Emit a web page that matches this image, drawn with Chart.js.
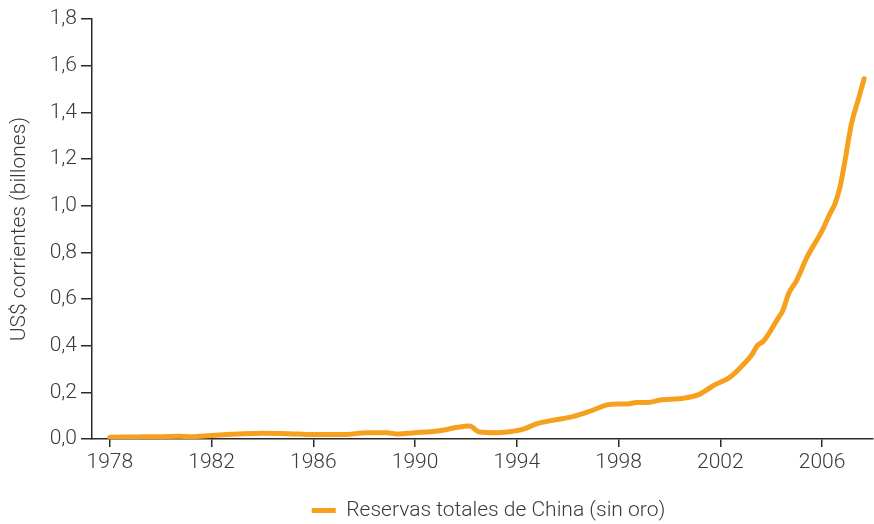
<!DOCTYPE html>
<html lang="es">
<head>
  <meta charset="UTF-8" />
  <title>Reservas totales de China</title>
  <script src="https://cdn.jsdelivr.net/npm/chart.js"></script>
  <style>
    html, body { margin: 0; padding: 0; background: #fff; }
    #wrap { width: 874px; height: 524px; }
  </style>
</head>
<body>
  <div id="wrap"><canvas id="reservesChart" width="874" height="524"></canvas></div>
  <script>
    // data
    const years = [
      1978.0, 1979.0, 1980.0, 1980.7, 1981.2, 1982.0, 1983.0, 1984.0, 1985.0, 1986.0,
      1987.2, 1988.1, 1988.9, 1989.3, 1990.0, 1990.6, 1991.2, 1991.65, 1992.15, 1992.5,
      1993.2, 1993.7, 1994.25, 1994.8, 1995.4, 1996.2, 1996.9, 1997.55, 1997.95, 1998.35,
      1998.7, 1999.1, 1999.6, 2000.0, 2000.55, 2001.15, 2001.7, 2002.4, 2002.85, 2003.25,
      2003.45, 2003.7, 2004.25, 2004.45, 2004.7, 2005.0, 2005.4, 2006.0, 2006.3, 2006.5,
      2006.7, 2006.9, 2007.15, 2007.45, 2007.65
    ];
    const reserves = [
      0.008, 0.009, 0.010, 0.012, 0.010, 0.015, 0.021, 0.025, 0.023, 0.019,
      0.019, 0.027, 0.027, 0.021, 0.027, 0.031, 0.040, 0.050, 0.056, 0.031,
      0.027, 0.031, 0.042, 0.066, 0.080, 0.096, 0.120, 0.146, 0.150, 0.150,
      0.156, 0.156, 0.166, 0.170, 0.175, 0.190, 0.227, 0.267, 0.313, 0.363,
      0.400, 0.420, 0.514, 0.550, 0.627, 0.680, 0.778, 0.893, 0.964, 1.007,
      1.079, 1.193, 1.350, 1.465, 1.544
    ];
    const xTicks = [1978, 1982, 1986, 1990, 1994, 1998, 2002, 2006];
    const yTicks = [0, 0.2, 0.4, 0.6, 0.8, 1.0, 1.2, 1.4, 1.6, 1.8];
    const seriesLabel = 'Reservas totales de China (sin oro)';
    const yTitle = 'US$ corrientes (billones)';

    const orange = '#F7A01E';
    const textColor = '#3a3a3a';
    const axisColor = '#2a2a2a';
    const font = { family: 'Roboto, "Liberation Sans", sans-serif', size: 21, weight: 300 };

    const points = years.map((y, i) => ({ x: y, y: reserves[i] }));

    // legend sits centred under the plot area and a bit lower than default
    const legendShift = {
      id: 'legendShift',
      afterLayout(chart) {
        const l = chart.legend;
        const target = (chart.chartArea.left + chart.chartArea.right) / 2 + 6;
        l.left = 2 * target - l.right;
        l.top += 9;
        l.bottom += 9;
      }
    };

    new Chart(document.getElementById('reservesChart'), {
      type: 'line',
      data: {
        datasets: [{
          label: seriesLabel,
          data: points,
          borderColor: orange,
          backgroundColor: orange,
          borderWidth: 5,
          borderCapStyle: 'round',
          borderJoinStyle: 'round',
          pointRadius: 0,
          cubicInterpolationMode: 'monotone'
        }]
      },
      options: {
        responsive: false,
        animation: false,
        layout: { padding: { top: 19, right: 1, left: 0, bottom: 2 } },
        plugins: {
          tooltip: { enabled: false },
          legend: {
            position: 'bottom',
            labels: {
              color: textColor,
              font: font,
              usePointStyle: true,
              pointStyle: 'line',
              pointStyleWidth: 24,
              padding: 10
            }
          }
        },
        scales: {
          x: {
            type: 'linear',
            min: 1977.3,
            max: 2008,
            afterBuildTicks: axis => { axis.ticks = xTicks.map(v => ({ value: v })); },
            afterFit: axis => { axis.height = 42; },
            border: { display: true, color: axisColor, width: 1.5 },
            grid: { drawOnChartArea: false, drawTicks: true, tickLength: 8, color: axisColor, lineWidth: 1.5 },
            ticks: { color: textColor, font: font, padding: 3, maxRotation: 0, callback: v => String(v) }
          },
          y: {
            min: 0,
            max: 1.8,
            afterBuildTicks: axis => { axis.ticks = yTicks.map(v => ({ value: v })); },
            afterFit: axis => { axis.width = 92; },
            border: { display: true, color: axisColor, width: 1.5 },
            grid: { drawOnChartArea: false, drawTicks: true, tickLength: 11, color: axisColor, lineWidth: 1.5 },
            ticks: {
              color: textColor,
              font: font,
              padding: 4,
              callback: v => v.toFixed(1).replace('.', ',')
            },
            title: {
              display: true,
              text: yTitle,
              color: textColor,
              font: font,
              padding: { top: 7, bottom: 0 }
            }
          }
        }
      },
      plugins: [legendShift]
    });
  </script>
</body>
</html>
